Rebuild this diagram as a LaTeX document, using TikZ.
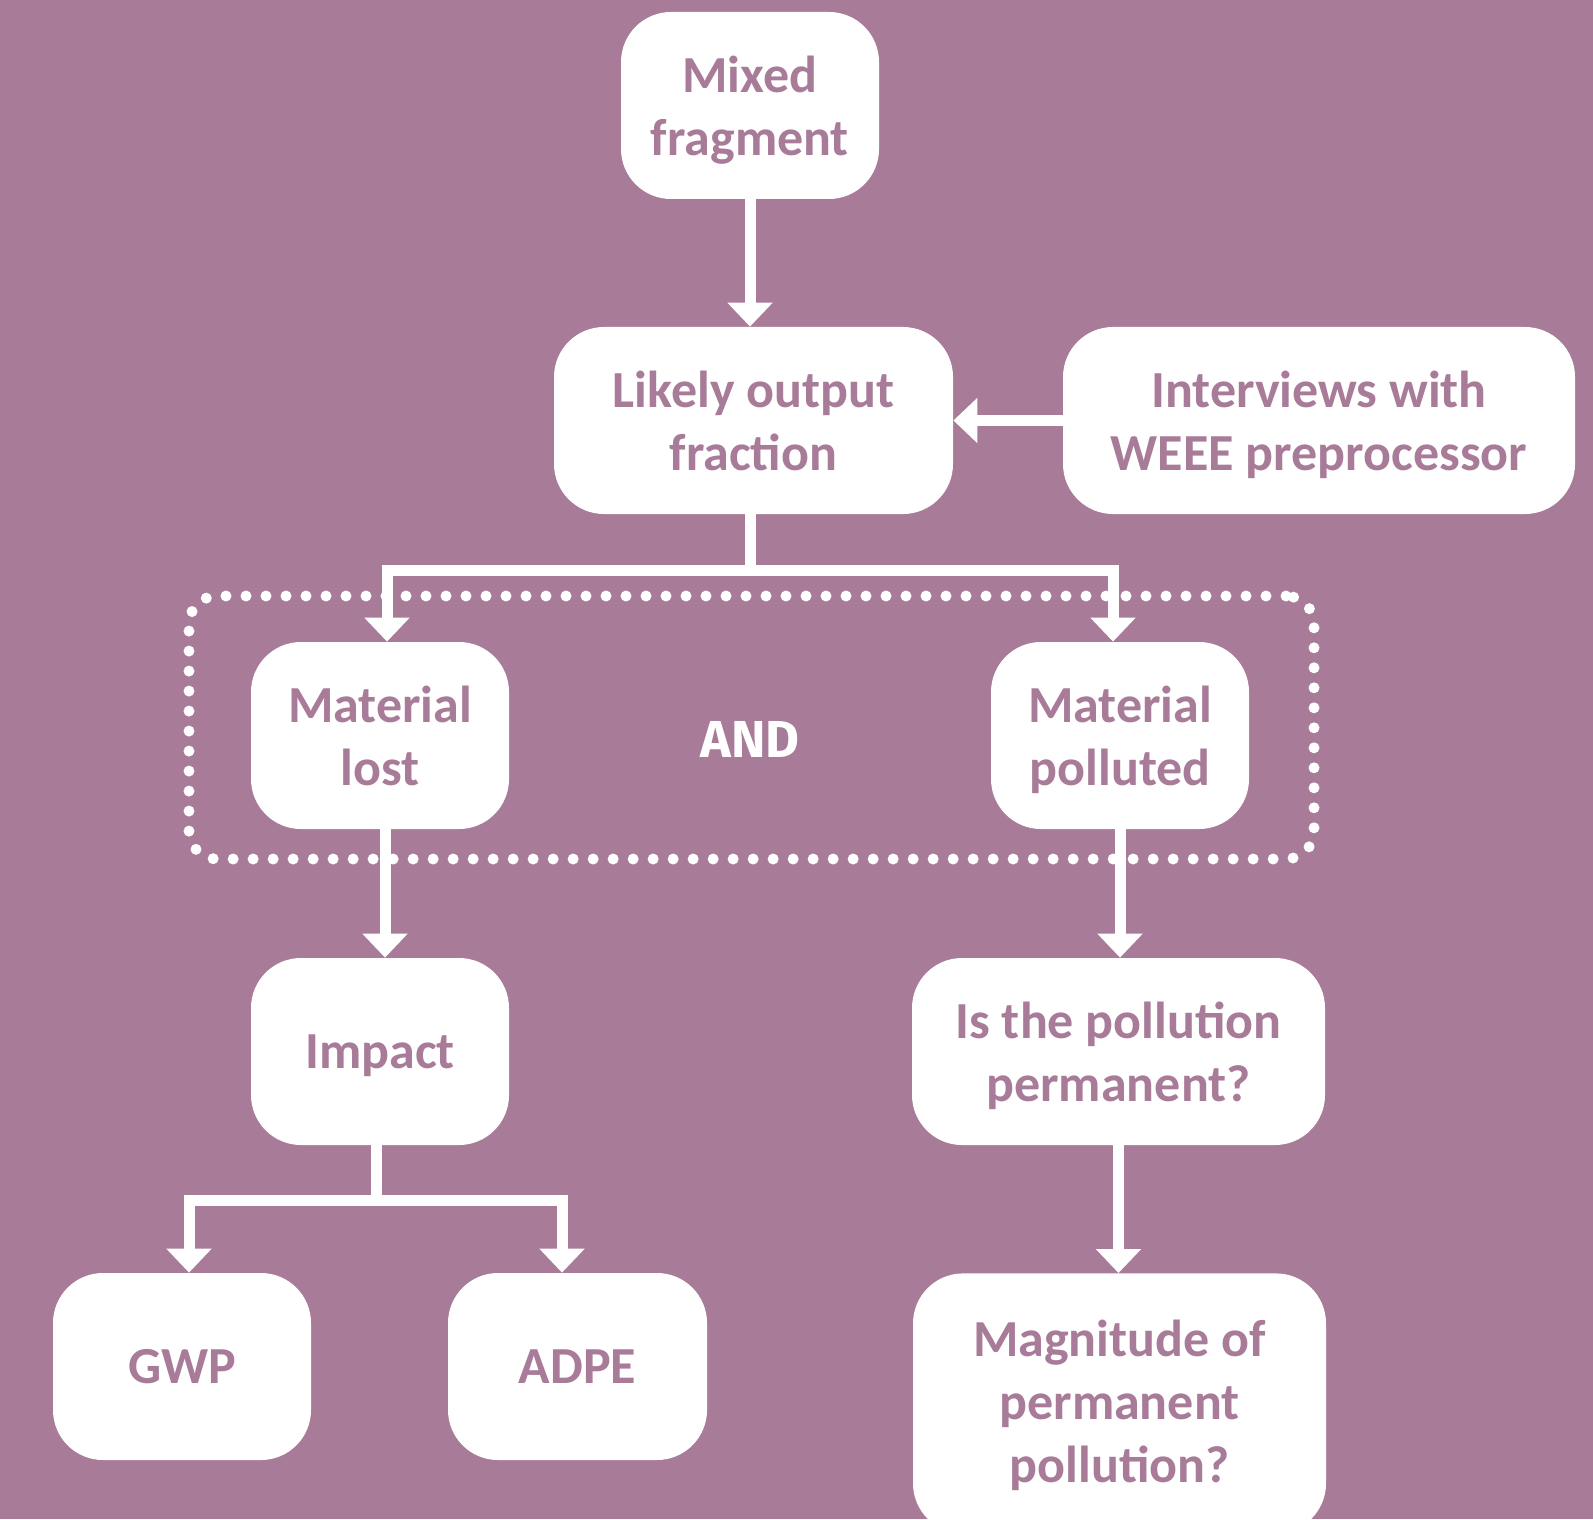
\documentclass[tikz,border=0pt]{standalone}
\usepackage{fontspec}
\setmainfont{Carlito}
\newfontfamily\andfont{Fira Sans}
\usetikzlibrary{arrows.meta,calc}
\definecolor{bgpurple}{RGB}{168,123,153}
\tikzset{
  box/.style={draw=none, fill=white, rounded corners=25pt, inner sep=0pt,
    minimum width=129pt, minimum height=93.5pt, align=center, text=bgpurple,
    font=\fontsize{26pt}{31.5pt}\selectfont\bfseries, text depth=-3pt},
  conn/.style={draw=white, line width=5.5pt, line join=miter,
    -{Triangle[length=12pt,width=22pt]}},
  txt/.style={align=center, text=bgpurple, inner sep=0pt,
    font=\fontsize{26pt}{31.5pt}\selectfont\bfseries, text depth=0pt},
  grp/.style={draw=white, line width=5.5pt, line cap=round, dash pattern=on 0pt off 10pt,
    rounded corners=14pt, inner sep=0pt, minimum width=562.5pt, minimum height=131.5pt}
}
\begin{document}
\begin{tikzpicture}[x=0.5pt,y=-0.5pt]
\useasboundingbox (0,0) rectangle (1593,1519);
\fill[bgpurple] (0,0) rectangle (1593,1519);
\begin{scope}
\clip (0,0) rectangle (1593,1519);
\node[grp] (group) at (751.5,727.5) {};
\node[box] (mix) at (750,105.5) {Mixed\\fragment};
\node[box, minimum width=199.5pt] (likely) at (753.5,420.5) {Likely output\\fraction};
\node[box, minimum width=256pt] (interv) at (1319,420.5) {Interviews with\\WEEE preprocessor};
\node[box] (lost) at (380,735.5) {Material\\lost};
\node[box] (poll) at (1120,735.5) {Material\\polluted};
\node[text=white, inner sep=0pt, font=\andfont\fontsize{26pt}{30pt}\selectfont\bfseries] (and) at (750,739) {AND};
\node[box] (impact) at (380,1051.5) {Impact};
\node[box, minimum width=206.5pt] (perm) at (1118.5,1051.5) {Is the pollution\\permanent?};
\node[box] (gwp) at (182,1366.5) {GWP};
\node[box, minimum width=129.5pt] (adpe) at (577.5,1366.5) {ADPE};
\node[box, minimum width=206.5pt, minimum height=130pt, anchor=north] (magbox) at (1119.5,1273) {};
\node[txt] (mag) at (1119.5,1401) {Magnitude of\\permanent\\pollution?};
\draw[conn] (mix.south) -- (mix.south |- likely.north);
\draw[conn] (interv.west) -- (interv.west -| likely.east);
\draw[conn] ([xshift=-1.75pt]likely.south) -- ++(0,56) -| ([xshift=3.5pt]lost.north);
\draw[conn] ([xshift=-1.75pt]likely.south) -- ++(0,56) -| ([xshift=-3.5pt]poll.north);
\draw[conn] ([xshift=2.5pt]lost.south) -- ([xshift=2.5pt]impact.north);
\draw[conn] (poll.south) -- (poll.south |- perm.north);
\draw[conn] ([xshift=-2pt]impact.south) -- ++(0,55) -| ([xshift=3.5pt]gwp.north);
\draw[conn] ([xshift=-2pt]impact.south) -- ++(0,55) -| ([xshift=-7.75pt]adpe.north);
\draw[conn] (perm.south) -- (perm.south |- magbox.north);
\end{scope}
\end{tikzpicture}
\end{document}
